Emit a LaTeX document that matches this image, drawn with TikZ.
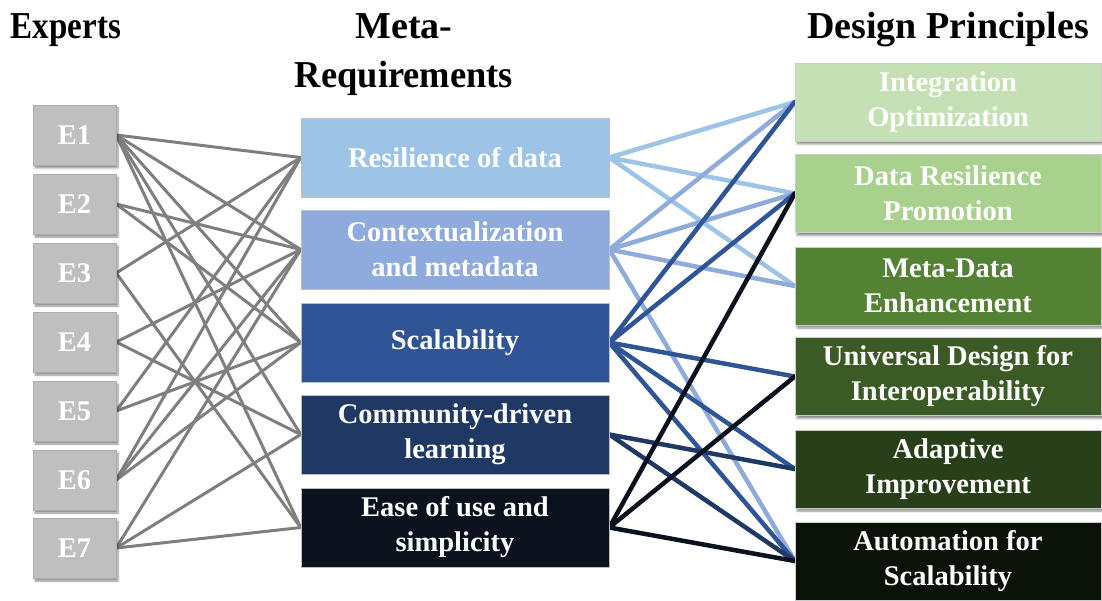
\documentclass[tikz,border=0pt]{standalone}
\usepackage{fontspec}
\setmainfont{Liberation Serif}
\usetikzlibrary{shadows.blur,backgrounds}

\definecolor{expgray}{HTML}{BFBFBF}
\definecolor{linegray}{HTML}{7F7F7F}
\definecolor{mrA}{HTML}{9DC3E6}
\definecolor{mrB}{HTML}{8FAADC}
\definecolor{mrC}{HTML}{2F5597}
\definecolor{mrD}{HTML}{203864}
\definecolor{mrE}{HTML}{0B111D}
\definecolor{dpA}{HTML}{C5E0B4}
\definecolor{dpB}{HTML}{A9D18E}
\definecolor{dpC}{HTML}{548235}
\definecolor{dpD}{HTML}{3B5A25}
\definecolor{dpE}{HTML}{283F19}
\definecolor{dpF}{HTML}{0B1208}

\tikzset{
  title/.style={font=\fontsize{38}{49}\selectfont\bfseries, align=center, text=black},
  boxtext/.style={font=\fontsize{28.5}{35}\selectfont\bfseries, text=white, align=center},
  expbox/.style={boxtext, fill=expgray, draw=expgray!90!black, line width=0.4pt,
    minimum width=83pt, minimum height=60pt, inner sep=0pt,
    blur shadow={shadow xshift=2pt, shadow yshift=-3pt, shadow blur radius=2pt, shadow opacity=45}},
  mrbox/.style={boxtext, draw=black!25, line width=0.6pt,
    minimum width=308pt, minimum height=79pt, inner sep=0pt},
  dpbox/.style={boxtext, draw=black!20, line width=0.4pt,
    minimum width=306pt, minimum height=78pt, inner sep=0pt,
    blur shadow={shadow xshift=2pt, shadow yshift=-3pt, shadow blur radius=2pt, shadow opacity=45}},
  glink/.style={draw=linegray, line width=3pt, line cap=round},
  clink/.style={line width=4.5pt, line cap=round},
}

\begin{document}
\begin{tikzpicture}[x=1pt,y=-1pt]
\useasboundingbox (0,0) rectangle (1102,601);

% column headings (base anchor sits on the last line)
\node[title, anchor=base] (hexp) at (66,39) {\scalebox{0.87}[1]{Experts}};
\node[title, anchor=base] (hmr) at (404,88) {Meta-\\\scalebox{0.96}[1]{Requirements}};
\node[title, anchor=base] (hdp) at (948,39) {Design Principles};

% experts
\foreach \i/\y in {1/135,2/204,3/273,4/342,5/411,6/480,7/548}
  \node[expbox] (E\i) at (74.5,\y) {E\i};

% meta-requirements
\node[mrbox, fill=mrA] (M1) at (455,157.5) {Resilience of data};
\node[mrbox, fill=mrB] (M2) at (455,249.5) {Contextualization\\and metadata};
\node[mrbox, fill=mrC] (M3) at (455,342.5) {Scalability};
\node[mrbox, fill=mrD] (M4) at (455,434.5) {Community-driven\\learning};
\node[mrbox, fill=mrE] (M5) at (455,527.5) {Ease of use and\\simplicity};

% design principles
\node[dpbox, fill=dpA] (D1) at (948,102) {Integration\\Optimization};
\node[dpbox, fill=dpB] (D2) at (948,193.5) {Data Resilience\\Promotion};
\node[dpbox, fill=dpC] (D3) at (948,286) {Meta-Data\\Enhancement};
\node[dpbox, fill=dpD] (D4) at (948,376.5) {Universal Design for\\Interoperability};
\node[dpbox, fill=dpE] (D5) at (948,469) {Adaptive\\Improvement};
\node[dpbox, fill=dpF] (D6) at (948,561) {Automation for\\Scalability};

\begin{scope}[on background layer]
  % experts to meta-requirements
  \foreach \e/\m in {1/1,1/2,1/3,1/4,1/5,2/2,2/3,3/1,3/5,4/2,4/4,5/1,5/3,6/1,6/2,6/3,7/2,7/4,7/5}
    \draw[glink] (E\e.east) -- (M\m.west);
  % meta-requirements to design principles
  \foreach \d in {1,2,3} \draw[clink, mrA] (M1.east) -- (D\d.west);
  \foreach \d in {1,2,3,6} \draw[clink, mrB] (M2.east) -- (D\d.west);
  \foreach \d in {1,2,4,5,6} \draw[clink, mrC] (M3.east) -- (D\d.west);
  \foreach \d in {5,6} \draw[clink, mrD] (M4.east) -- (D\d.west);
  \foreach \d in {2,4,6} \draw[clink, mrE] (M5.east) -- (D\d.west);
\end{scope}
\end{tikzpicture}
\end{document}
